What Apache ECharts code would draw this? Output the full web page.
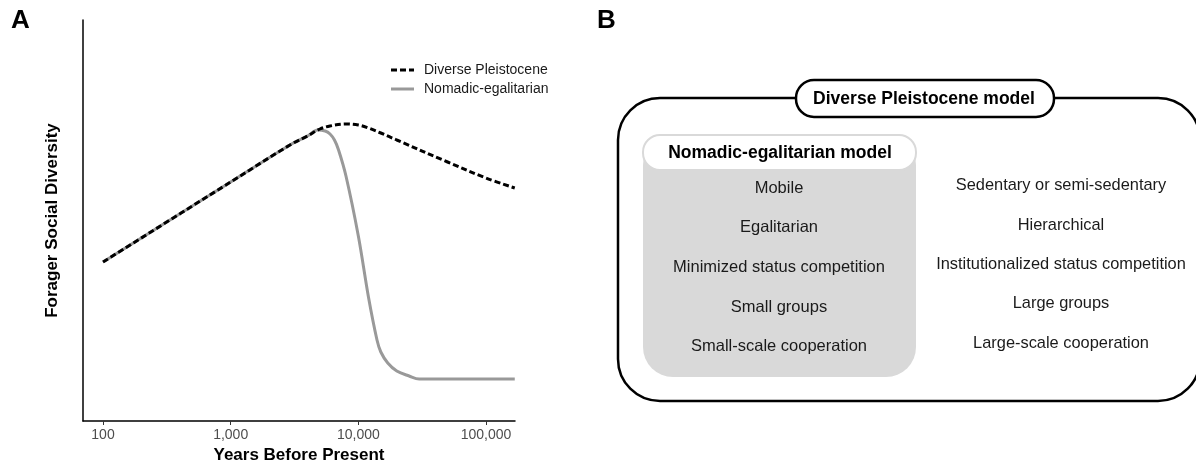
<!DOCTYPE html>
<html>
<head>
<meta charset="utf-8">
<script src="https://cdn.jsdelivr.net/npm/echarts@6/dist/echarts.min.js"></script>
<style>
  html, body { margin: 0; padding: 0; background: #fff; }
  #chart { width: 1196px; height: 463px; }
</style>
</head>
<body>
<div id="chart"></div>
<script>
// ── Panel A data (years before present, log axis) ──
const yearsDiverse = [100, 1000, 3000, 4000, 5000, 6000, 8000, 10000, 12000, 15000, 20000, 50000, 100000, 168000]
const diverseValues = [159, 239, 277, 285, 292, 295, 297, 296, 293, 288, 281, 259, 243, 233]

const yearsNomadic = [100, 1000, 3000, 4000, 4800, 5500, 6000, 6500, 7000, 8000, 10000, 12000, 14000, 15000, 17000, 20000, 25000, 30000, 168000]
const nomadicValues = [159, 239, 277, 285, 291, 290, 287, 281, 271, 245, 185, 124, 81, 69, 58, 50, 45, 42, 42]

const xTicks = [100, 1000, 10000, 100000]

// ── Panel B text ──
const nomadicTraits = ['Mobile', 'Egalitarian', 'Minimized status competition', 'Small groups', 'Small-scale cooperation']
const pleistoceneTraits = ['Sedentary or semi-sedentary', 'Hierarchical', 'Institutionalized status competition', 'Large groups', 'Large-scale cooperation']

const FONT = '"Liberation Sans", Arial, Helvetica, sans-serif'

// 图例图标：虚线 / 实线（填充路径）
const DASH_ICON = 'path://M0,0h6v3h-6z M9,0h6v3h-6z M18,0h5v3h-5z'
const SOLID_ICON = 'path://M0,0h23v3h-23z'

const toPairs = (xs, ys) => xs.map((x, i) => [x, ys[i]])

const chart = echarts.init(document.getElementById('chart'), null, { renderer: 'canvas' })

// 面板 B 的图形元素（外框右边缘超出画布）
const graphics = [
    { type: 'text', left: 11, top: 8, style: { text: 'A', font: 'bold 26px ' + FONT, fill: '#000' } },
    { type: 'text', left: 597, top: 8, style: { text: 'B', font: 'bold 26px ' + FONT, fill: '#000' } },
    {
        type: 'rect', shape: { x: 618, y: 98, width: 582, height: 303, r: 42 },
        style: { fill: '#fff', stroke: '#000', lineWidth: 2.5 }
    },
    {
        type: 'rect', shape: { x: 796, y: 80, width: 258, height: 37, r: 18 },
        style: { fill: '#fff', stroke: '#000', lineWidth: 2.5 }
    },
    {
        type: 'text', x: 924, y: 99,
        style: { text: 'Diverse Pleistocene model', font: 'bold 17.5px ' + FONT, fill: '#000', align: 'center', verticalAlign: 'middle' }
    },
    {
        type: 'rect', shape: { x: 643, y: 135, width: 273, height: 242, r: 30 },
        style: { fill: '#d9d9d9' }
    },
    {
        type: 'rect', shape: { x: 643, y: 135, width: 273, height: 35, r: 17 },
        style: { fill: '#fff', stroke: '#d9d9d9', lineWidth: 2 }
    },
    {
        type: 'text', x: 780, y: 153,
        style: { text: 'Nomadic-egalitarian model', font: 'bold 17.5px ' + FONT, fill: '#000', align: 'center', verticalAlign: 'middle' }
    }
]

const leftRowsY = [188, 227, 267, 307, 346]
const rightRowsY = [185, 225, 264, 303, 343]
nomadicTraits.forEach((t, i) => {
    graphics.push({
        type: 'text', x: 779, y: leftRowsY[i],
        style: { text: t, font: '16.5px ' + FONT, fill: '#1a1a1a', align: 'center', verticalAlign: 'middle' }
    })
})
pleistoceneTraits.forEach((t, i) => {
    graphics.push({
        type: 'text', x: 1061, y: rightRowsY[i],
        style: { text: t, font: '16.4px ' + FONT, fill: '#1a1a1a', align: 'center', verticalAlign: 'middle' }
    })
})

const option = {
    animation: false,
    backgroundColor: '#fff',
    textStyle: { fontFamily: FONT },
    grid: { left: 83, top: 20, right: 681, bottom: 42, containLabel: false, outerBoundsMode: 'none' },
    legend: {
        orient: 'vertical',
        left: 386,
        top: 58,
        itemWidth: 23,
        itemHeight: 14,
        itemGap: 5,
        data: [
            { name: 'Diverse Pleistocene', icon: DASH_ICON, itemStyle: { color: '#000' } },
            { name: 'Nomadic-egalitarian', icon: SOLID_ICON, itemStyle: { color: '#999' } }
        ],
        textStyle: { fontSize: 14, color: '#1a1a1a', padding: [0, 0, 0, 5] }
    },
    xAxis: {
        type: 'log',
        logBase: 10,
        min: 69.7,
        max: 168700,
        name: 'Years Before Present',
        nameLocation: 'middle',
        nameGap: 24,
        nameTextStyle: { fontSize: 17, fontWeight: 'bold', color: '#000' },
        axisLine: { show: true, onZero: false, lineStyle: { color: '#000', width: 1.5 } },
        axisTick: { show: true, length: 4, customValues: xTicks, lineStyle: { color: '#333' } },
        axisLabel: {
            customValues: xTicks,
            fontSize: 14,
            color: '#4d4d4d',
            margin: 7,
            formatter: (v) => Number(v).toLocaleString('en-US')
        },
        splitLine: { show: false }
    },
    yAxis: {
        type: 'value',
        min: 0,
        max: 401,
        name: 'Forager Social Diversity',
        nameLocation: 'middle',
        nameGap: 22,
        nameTextStyle: { fontSize: 17, fontWeight: 'bold', color: '#000' },
        axisLine: { show: true, lineStyle: { color: '#000', width: 1.5 } },
        axisTick: { show: false },
        axisLabel: { show: false },
        splitLine: { show: false }
    },
    series: [
        {
            name: 'Nomadic-egalitarian',
            type: 'line',
            data: toPairs(yearsNomadic, nomadicValues),
            smooth: 0.35,
            symbol: 'none',
            lineStyle: { color: '#999', width: 3 },
            itemStyle: { color: '#999' }
        },
        {
            name: 'Diverse Pleistocene',
            type: 'line',
            data: toPairs(yearsDiverse, diverseValues),
            smooth: 0.35,
            symbol: 'none',
            lineStyle: { color: '#000', width: 3, type: [6, 3] },
            itemStyle: { color: '#000' }
        }
    ],
    graphic: graphics
}

chart.setOption(option)
</script>
</body>
</html>
